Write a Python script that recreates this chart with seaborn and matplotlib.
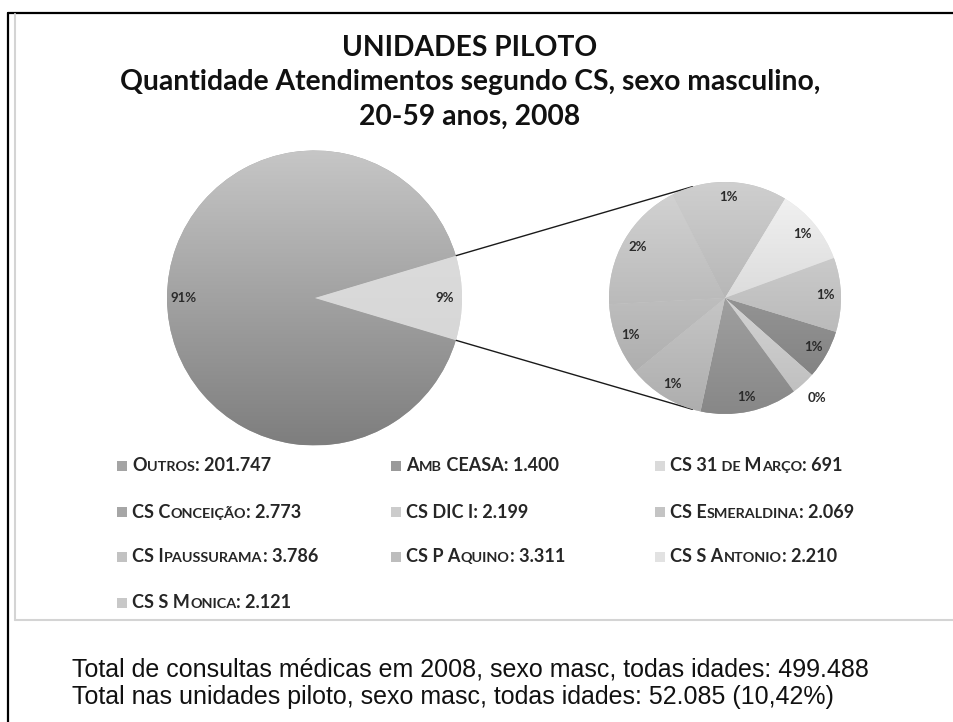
import numpy as np
import matplotlib
matplotlib.use('Agg')
import matplotlib.pyplot as plt
import seaborn as sns
from matplotlib import font_manager
from matplotlib.colors import LinearSegmentedColormap, to_rgb
from matplotlib.lines import Line2D
from matplotlib.patches import Rectangle
from matplotlib.offsetbox import TextArea, HPacker, DrawingArea, AnnotationBbox

# data
units = ['Outros', 'Amb CEASA', 'CS 31 de Março', 'CS Conceição', 'CS DIC I',
         'CS Esmeraldina', 'CS Ipaussurama', 'CS P Aquino', 'CS S Antonio', 'CS S Monica']
atendimentos = [201747, 1400, 691, 2773, 2199, 2069, 3786, 3311, 2210, 2121]
unit_colors = ['#a4a4a4', '#9a9a9a', '#dadada', '#a6a6a6', '#cccccc',
               '#c4c4c4', '#c2c2c2', '#bdbdbd', '#e2e2e2', '#c8c8c8']

title_lines = ['UNIDADES PILOTO',
               'Quantidade Atendimentos segundo CS, sexo masculino,',
               '20-59 anos, 2008']
footer_lines = ['Total de consultas médicas em 2008, sexo masc, todas idades: 499.488',
                'Total nas unidades piloto, sexo masc, todas idades: 52.085 (10,42%)']

outros = atendimentos[0]
piloto = atendimentos[1:]
piloto_sum = sum(piloto)
total = outros + piloto_sum

sns.set_theme(style='white')
plt.rcParams['font.family'] = ['Lato', 'DejaVu Sans']

try:
    font_manager.findfont('Liberation Sans Narrow', fallback_to_default=False)
    footer_font = 'Liberation Sans Narrow'
except ValueError:
    footer_font = 'Liberation Sans'

W, H = 954, 722
fig = plt.figure(figsize=(W / 100, H / 100), dpi=100)
ax = fig.add_axes([0, 0, 1, 1])


def shade(c, d):
    return tuple(np.clip(np.array(to_rgb(c)) + d, 0, 1))


def fill_gradient(wedge, top, bottom, center, r):
    cmap = LinearSegmentedColormap.from_list('g', [bottom, top])
    grad = np.linspace(0, 1, 256).reshape(-1, 1)
    im = ax.imshow(grad, cmap=cmap, origin='lower', aspect='auto', zorder=2,
                   extent=(center[0] - r, center[0] + r, center[1] - r, center[1] + r))
    im.set_clip_path(wedge)


# main pie: "Outros" and the pilot units together
big_c, big_r = (314.5, H - 298), 147.5
frac = piloto_sum / total
wedges_big, _, pct_big = ax.pie(
    [piloto_sum, outros], center=big_c, radius=big_r, startangle=-frac * 180,
    autopct=lambda p: f'{p:.0f}%', pctdistance=0.885,
    colors=['#d9d9d9', unit_colors[0]], wedgeprops=dict(linewidth=0),
    textprops=dict(fontsize=9.5, fontweight='bold', color='#2a2a2a'))
fill_gradient(wedges_big[0], '#e0e0e0', '#d2d2d2', big_c, big_r)
fill_gradient(wedges_big[1], '#c6c6c6', '#7e7e7e', big_c, big_r)

# secondary pie: the pilot units
small_c, small_r = (725, H - 298), 116
wedges_small, _, pct_small = ax.pie(
    piloto, center=small_c, radius=small_r, startangle=-17, counterclock=False,
    autopct=lambda p: f'{p * piloto_sum / total:.0f}%', pctdistance=0.87,
    colors=unit_colors[1:], wedgeprops=dict(linewidth=0),
    textprops=dict(fontsize=9.5, fontweight='bold', color='#2a2a2a'))
for w, c in zip(wedges_small, unit_colors[1:]):
    fill_gradient(w, shade(c, 0.07), shade(c, -0.12), small_c, small_r)
for w, t, v in zip(wedges_small, pct_small, piloto):
    if v / total < 0.005:
        a = np.deg2rad((w.theta1 + w.theta2) / 2)
        t.set_position((small_c[0] + 1.17 * small_r * np.cos(a),
                        small_c[1] + 1.17 * small_r * np.sin(a)))
for t in list(pct_big) + list(pct_small):
    t.set_zorder(5)

# connector lines: tangents from the 9% wedge corners to the small pie
w = wedges_big[0]
for ang in (w.theta2, w.theta1):
    a = np.deg2rad(ang)
    p = np.array([big_c[0] + big_r * np.cos(a), big_c[1] + big_r * np.sin(a)])
    v = p - np.array(small_c)
    dist = np.hypot(*v)
    base = np.arctan2(v[1], v[0])
    off = np.arccos(small_r / dist)
    t_ang = base - off if v[1] > 0 else base + off
    q = (small_c[0] + small_r * np.cos(t_ang), small_c[1] + small_r * np.sin(t_ang))
    ax.plot([p[0], q[0]], [p[1], q[1]], color='#1a1a1a', lw=1.0, zorder=1)


# legend with small caps labels
def smallcaps_runs(text):
    runs, pending = [], ''
    for ch in text:
        if ch == ' ':
            pending += ch
            continue
        small = ch.islower()
        piece = pending + (ch.upper() if small else ch)
        pending = ''
        if runs and runs[-1][1] == small:
            runs[-1][0] += piece
        else:
            runs.append([piece, small])
    return runs


fs = 13
col_x = [117, 391, 655]
row_y = [466, 512, 557, 603]
for i, (name, val, col) in enumerate(zip(units, atendimentos, unit_colors)):
    label = f'{name}: {val:,}'.replace(',', '.')
    da = DrawingArea(7, 7)
    da.add_artist(Rectangle((0, 0), 7, 7, fc=col, ec='none'))
    parts = [TextArea(run, textprops=dict(fontsize=fs * (0.8 if small else 1),
                                          fontweight='bold', color='#262626'))
             for run, small in smallcaps_runs(label)]
    txt = HPacker(children=parts, align='baseline', pad=0, sep=0)
    entry = HPacker(children=[da, txt], align='center', pad=0, sep=4)
    ab = AnnotationBbox(entry, (col_x[i % 3], H - row_y[i // 3]),
                        box_alignment=(0, 0.5), frameon=False, pad=0)
    ax.add_artist(ab)

# title
for line, y in zip(title_lines, [48, 82, 117]):
    ax.text(470, H - y, line, ha='center', va='center', fontsize=20.3,
            fontweight='bold', color='#111111')

# footer text under the chart
for line, y in zip(footer_lines, [670, 697]):
    ax.text(72, H - y, line, ha='left', va='center', fontsize=18,
            family=footer_font, color='#111111')

# borders
ax.add_line(Line2D([8, 8], [0, H - 12.5], color='black', lw=1.6))
ax.add_line(Line2D([8, W], [H - 12.5, H - 12.5], color='black', lw=1.6))
ax.add_line(Line2D([15, 15], [H - 14, H - 620], color='#d4d4d4', lw=1.5))
ax.add_line(Line2D([15, W], [H - 620, H - 620], color='#d4d4d4', lw=1.5))

ax.set_xlim(0, W)
ax.set_ylim(0, H)
ax.set_aspect('equal')
ax.axis('off')

fig.savefig('out.png', dpi=100, facecolor='white')
